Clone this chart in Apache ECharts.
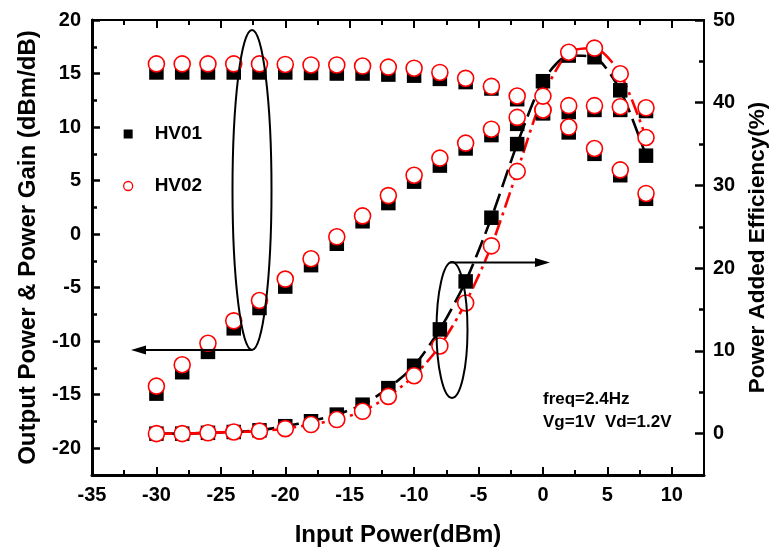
<!DOCTYPE html>
<html><head><meta charset="utf-8">
<script src="https://cdn.jsdelivr.net/npm/echarts@6/dist/echarts.min.js"></script>
<style>html,body{margin:0;padding:0;background:#fff}#c{width:776px;height:552px}</style>
</head><body><div id="c"></div>
<script>
// ---- data ----
const inputPower = [-30,-28,-26,-24,-22,-20,-18,-16,-14,-12,-10,-8,-6,-4,-2,0,2,4,6,8];
const hv01Gain   = [15.1,15.1,15.1,15.1,15.1,15.1,15.05,15.0,15.0,14.9,14.8,14.5,14.2,13.6,12.6,11.3,9.5,7.5,5.5,3.3];
const hv02Gain   = [15.9,15.9,15.9,15.9,15.9,15.85,15.8,15.8,15.7,15.6,15.5,15.1,14.55,13.8,12.9,11.6,10.0,8.0,6.0,3.8];
const hv01Pout   = [-14.9,-12.9,-11.0,-8.8,-6.9,-4.9,-2.9,-0.9,1.2,2.9,4.9,6.4,8.0,9.25,10.3,11.3,11.4,11.6,11.6,11.5];
const hv02Pout   = [-14.2,-12.2,-10.2,-8.1,-6.2,-4.2,-2.3,-0.25,1.7,3.6,5.5,7.1,8.5,9.8,10.9,11.6,12.0,12.0,11.9,11.8];
const hv01PAE    = [0.0,0.0,0.1,0.2,0.4,0.9,1.5,2.3,3.5,5.5,8.2,12.6,18.4,26.1,35.0,42.6,45.7,45.5,41.5,33.6];
const hv02PAE    = [0.0,0.0,0.1,0.2,0.3,0.6,1.1,1.7,2.7,4.5,7.0,10.6,15.8,22.7,31.7,40.8,46.1,46.6,43.5,35.8];

const xMajor = [-35,-30,-25,-20,-15,-10,-5,0,5,10];
const xMinor = [-32.5,-27.5,-22.5,-17.5,-12.5,-7.5,-2.5,2.5,7.5];
const leftMajor = [-20,-15,-10,-5,0,5,10,15,20];
const leftMinor = [-17.5,-12.5,-7.5,-2.5,2.5,7.5,12.5,17.5];
const rightMajor = [0,10,20,30,40,50];
const rightMinor = [5,15,25,35,45];

const FF = '"Liberation Sans", Arial, Helvetica, sans-serif';
const pairs = (xs, ys) => xs.map((x, i) => [x, ys[i]]);

const chart = echarts.init(document.getElementById('c'), null, {renderer: 'canvas'});

const lblStyle = {fontFamily: FF, fontWeight: 'bold', fontSize: 20, color: '#000'};
function xAx(pos, major, lw, showLabel, name) {
  return {
    type: 'value', position: pos, min: -35, max: 12.5, gridIndex: 0,
    name: name || '', nameLocation: 'middle', nameGap: 48,
    nameTextStyle: {fontFamily: FF, fontWeight: 'bold', fontSize: 24, color: '#000'},
    axisLine: {show: major, onZero: false, lineStyle: {color: '#000', width: lw}},
    axisTick: {show: true, inside: true, length: major ? 8 : 5, customValues: major ? xMajor : xMinor,
               lineStyle: {color: '#000', width: 2}},
    axisLabel: Object.assign({show: showLabel, margin: 10, customValues: xMajor}, lblStyle),
    splitLine: {show: false}
  };
}
const series = [];
function scat(name, data, yIdx, isCircle) {
  return {
    type: 'scatter', name: name, xAxisIndex: 0, yAxisIndex: yIdx, data: data,
    symbol: isCircle ? 'circle' : 'rect', symbolSize: isCircle ? 16 : 14.5,
    itemStyle: isCircle ? {color: '#fff', borderColor: '#ff0000', borderWidth: 1.6, opacity: 1} : {color: '#000', opacity: 1},
    z: isCircle ? 4 : 3, emphasis: {disabled: true}, silent: true
  };
}
function line(name, data, color, dash) {
  return {
    type: 'line', name: name, xAxisIndex: 0, yAxisIndex: 1, data: data, showSymbol: false, symbol: 'none',
    smooth: 0.25, lineStyle: {color: color, width: 2.6, type: dash}, z: 2, silent: true
  };
}
series.push(line('HV01', pairs(inputPower, hv01PAE), '#000', [18, 7]));
series.push(line('HV02', pairs(inputPower, hv02PAE), '#ff0000', [16, 5, 3, 5]));
series.push(scat('HV01', pairs(inputPower, hv01Gain), 0, false));
series.push(scat('HV01', pairs(inputPower, hv01Pout), 0, false));
series.push(scat('HV01', pairs(inputPower, hv01PAE), 1, false));
series.push(scat('HV02', pairs(inputPower, hv02Gain), 0, true));
series.push(scat('HV02', pairs(inputPower, hv02Pout), 0, true));
series.push(scat('HV02', pairs(inputPower, hv02PAE), 1, true));

const option = {
  animation: false,
  backgroundColor: '#fff',
  grid: {left: 92, right: 72, top: 20, bottom: 77, containLabel: false, outerBoundsMode: 'none'},
  legend: {
    orient: 'vertical', left: 118, top: 119, itemWidth: 9, itemHeight: 9, itemGap: 32,
    selectedMode: false,
    textStyle: {fontFamily: FF, fontWeight: 'bold', fontSize: 19, color: '#000', padding: [0, 0, 0, 17], lineHeight: 20},
    data: [
      {name: 'HV01', icon: 'rect', itemStyle: {color: '#000', borderWidth: 0, opacity: 1}},
      {name: 'HV02', icon: 'circle', itemStyle: {color: '#fff', borderColor: '#ff0000', borderWidth: 1.3, opacity: 1}}
    ]
  },
  xAxis: [
    xAx('bottom', true, 3, true, 'Input Power(dBm)'),
    xAx('bottom', false, 3, false),
    xAx('top', true, 2, false),
    xAx('top', false, 2, false)
  ],
  yAxis: [
    {
      type: 'value', position: 'left', min: -22.5, max: 20,
      name: 'Output Power & Power Gain (dBm/dB)', nameLocation: 'middle', nameGap: 52,
      nameTextStyle: {fontFamily: FF, fontWeight: 'bold', fontSize: 24, color: '#000'},
      axisLine: {show: true, onZero: false, lineStyle: {color: '#000', width: 3}},
      axisTick: {show: true, inside: true, length: 8, customValues: leftMajor, lineStyle: {color: '#000', width: 2.5}},
      axisLabel: Object.assign({margin: 11, customValues: leftMajor}, lblStyle),
      splitLine: {show: false}
    },
    {
      type: 'value', position: 'right', min: -5, max: 50,
      name: 'Power Added Efficiency(%)', nameLocation: 'middle', nameGap: 42,
      nameTextStyle: {fontFamily: FF, fontWeight: 'bold', fontSize: 22.5, color: '#000'},
      axisLine: {show: true, onZero: false, lineStyle: {color: '#000', width: 2}},
      axisTick: {show: true, inside: true, length: 9, customValues: rightMajor, lineStyle: {color: '#000', width: 2.5}},
      axisLabel: Object.assign({margin: 9, customValues: rightMajor}, lblStyle),
      splitLine: {show: false}
    },
    {
      type: 'value', position: 'left', min: -22.5, max: 20,
      axisLine: {show: false, onZero: false}, axisLabel: {show: false}, splitLine: {show: false},
      axisTick: {show: true, inside: true, length: 5, customValues: leftMinor, lineStyle: {color: '#000', width: 2.5}}
    },
    {
      type: 'value', position: 'right', min: -5, max: 50,
      axisLine: {show: false, onZero: false}, axisLabel: {show: false}, splitLine: {show: false},
      axisTick: {show: true, inside: true, length: 5, customValues: rightMinor, lineStyle: {color: '#000', width: 2.5}}
    }
  ],
  series: series,
  graphic: [
    {type: 'ellipse', shape: {cx: 252, cy: 190, rx: 19.5, ry: 160}, style: {fill: 'none', stroke: '#000', lineWidth: 2}, z: 10, silent: true},
    {type: 'line', shape: {x1: 252, y1: 350, x2: 140, y2: 350}, style: {stroke: '#000', lineWidth: 2}, z: 10, silent: true},
    {type: 'polygon', shape: {points: [[131, 350], [146, 345.5], [146, 354.5]]}, style: {fill: '#000'}, z: 10, silent: true},
    {type: 'ellipse', shape: {cx: 452, cy: 330, rx: 15.5, ry: 68}, style: {fill: 'none', stroke: '#000', lineWidth: 2}, z: 10, silent: true},
    {type: 'line', shape: {x1: 450, y1: 262.5, x2: 540, y2: 262.5}, style: {stroke: '#000', lineWidth: 2}, z: 10, silent: true},
    {type: 'polygon', shape: {points: [[550, 262.5], [535, 258], [535, 267]]}, style: {fill: '#000'}, z: 10, silent: true},
    {type: 'text', left: 543, top: 391, style: {text: 'freq=2.4Hz', font: 'bold 17px ' + FF, fill: '#000'}, z: 10, silent: true},
    {type: 'text', left: 543, top: 414, style: {text: 'Vg=1V  Vd=1.2V', font: 'bold 17px ' + FF, fill: '#000'}, z: 10, silent: true}
  ]
};
chart.setOption(option);
</script>
</body></html>
